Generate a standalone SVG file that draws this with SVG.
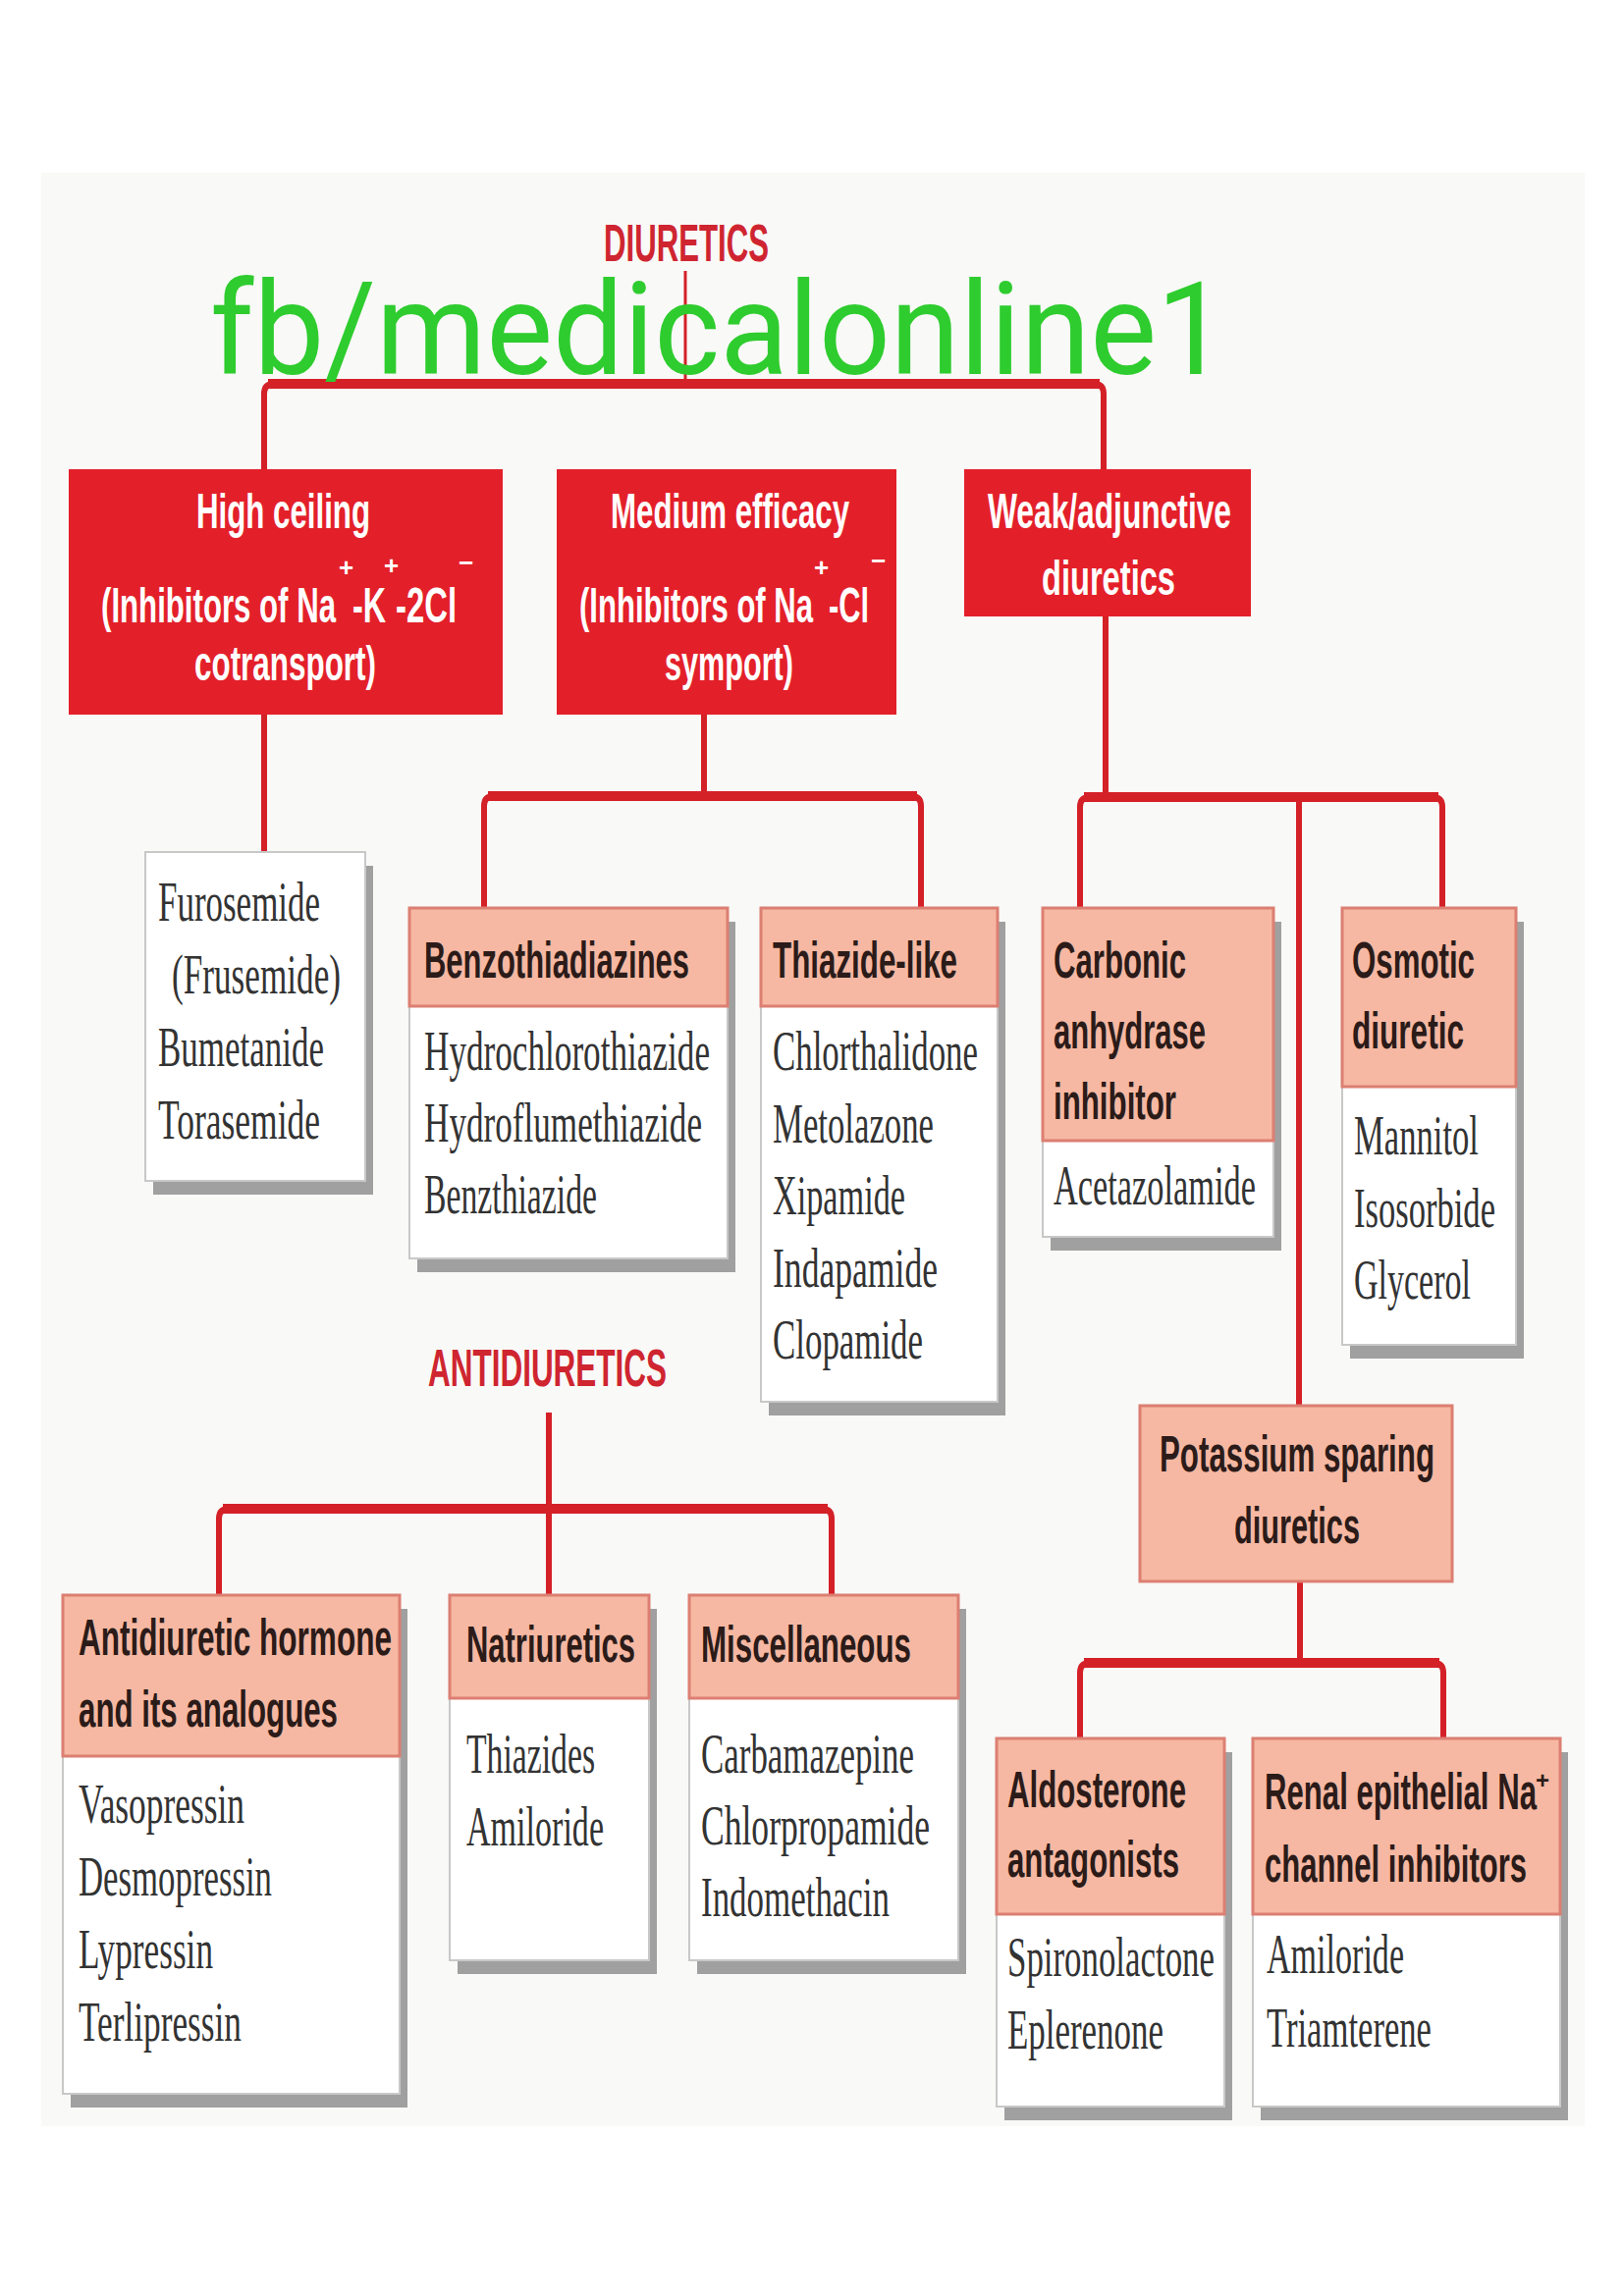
<svg xmlns="http://www.w3.org/2000/svg" width="1653" height="2339" viewBox="0 0 1653 2339">
<defs>
<style>
.bg{fill:#f9f9f7}
.red{fill:#e3202a}
.rt{font-family:"Liberation Sans",Arial,sans-serif;font-weight:bold;fill:#ffffff;font-size:50px}
.sup{font-family:"Liberation Sans",Arial,sans-serif;font-weight:bold;fill:#ffffff;font-size:26px}
.hd{fill:#f6b8a2;stroke:#dc7f72;stroke-width:3}
.body{fill:#ffffff;stroke:#c8c8c8;stroke-width:2}
.sh{fill:#a0a0a0}
.ht{font-family:"Liberation Sans",Arial,sans-serif;font-weight:bold;fill:#2b1b19;font-size:52px}
.hsup{font-family:"Liberation Sans",Arial,sans-serif;font-weight:bold;fill:#2b1b19;font-size:24px}
.bt{font-family:"Liberation Serif","Times New Roman",serif;fill:#333333;font-size:58px}
.ti{font-family:"Liberation Sans",Arial,sans-serif;font-weight:bold;fill:#cf2530;font-size:54px}
.wm{font-family:Roboto,"Liberation Sans",Arial,sans-serif;fill:#2ecc2e;font-size:132px}
.cn{fill:none;stroke:#d42027}
.bar{stroke-width:10}
.v{stroke-width:6}
.thin{stroke-width:3}
</style>
</defs>
<rect class="bg" x="42" y="176" width="1572" height="1990"/>

<g id="connectors">
  <line class="cn thin" x1="698" y1="276" x2="698" y2="391"/>
  <path class="cn v" d="M269,478 V401 Q269,391 279,391 H1114 Q1124,391 1124,401 V478"/>
  <line class="cn bar" x1="273" y1="391" x2="1120" y2="391"/>
  <line class="cn v" x1="269" y1="728" x2="269" y2="868"/>
  <line class="cn v" x1="717" y1="728" x2="717" y2="811"/>
  <path class="cn v" d="M493,925 V821 Q493,811 503,811 H928 Q938,811 938,821 V925"/>
  <line class="cn bar" x1="497" y1="811" x2="934" y2="811"/>
  <line class="cn v" x1="1126" y1="628" x2="1126" y2="812"/>
  <path class="cn v" d="M1100,925 V822 Q1100,812 1110,812 H1459 Q1469,812 1469,822 V925"/>
  <line class="cn bar" x1="1104" y1="812" x2="1465" y2="812"/>
  <line class="cn v" x1="1323" y1="812" x2="1323" y2="1432"/>
  <line class="cn v" x1="1324" y1="1611" x2="1324" y2="1694"/>
  <path class="cn v" d="M1100,1771 V1704 Q1100,1694 1110,1694 H1460 Q1470,1694 1470,1704 V1771"/>
  <line class="cn bar" x1="1104" y1="1694" x2="1466" y2="1694"/>
  <line class="cn v" x1="559" y1="1439" x2="559" y2="1625"/>
  <path class="cn v" d="M223,1625 V1547 Q223,1537 233,1537 H837 Q847,1537 847,1547 V1625"/>
  <line class="cn bar" x1="227" y1="1537" x2="843" y2="1537"/>
</g>

<g id="diuretics-title">
  <text class="ti" x="615" y="266" textLength="168" lengthAdjust="spacingAndGlyphs">DIURETICS</text>
</g>

<g id="high-ceiling">
  <rect class="red" x="70" y="478" width="442" height="250"/>
  <text class="rt" x="200" y="538" textLength="177" lengthAdjust="spacingAndGlyphs">High ceiling</text>
  <text class="rt" x="103" y="634" textLength="239" lengthAdjust="spacingAndGlyphs">(Inhibitors of Na</text>
  <text class="sup" x="345" y="587">+</text>
  <text class="rt" x="359" y="634" textLength="34" lengthAdjust="spacingAndGlyphs">-K</text>
  <text class="sup" x="391" y="585">+</text>
  <text class="rt" x="403" y="634" textLength="62" lengthAdjust="spacingAndGlyphs">-2Cl</text>
  <text class="sup" x="467" y="582">−</text>
  <text class="rt" x="198" y="693" textLength="185" lengthAdjust="spacingAndGlyphs">cotransport)</text>
</g>

<g id="medium-efficacy">
  <rect class="red" x="567" y="478" width="346" height="250"/>
  <text class="rt" x="622" y="538" textLength="243" lengthAdjust="spacingAndGlyphs">Medium efficacy</text>
  <text class="rt" x="590" y="634" textLength="238" lengthAdjust="spacingAndGlyphs">(Inhibitors of Na</text>
  <text class="sup" x="829" y="587">+</text>
  <text class="rt" x="844" y="634" textLength="41" lengthAdjust="spacingAndGlyphs">-Cl</text>
  <text class="sup" x="887" y="580">−</text>
  <text class="rt" x="677" y="693" textLength="131" lengthAdjust="spacingAndGlyphs">symport)</text>
</g>

<g id="weak-adjunctive">
  <rect class="red" x="982" y="478" width="292" height="150"/>
  <text class="rt" x="1006" y="538" textLength="248" lengthAdjust="spacingAndGlyphs">Weak/adjunctive</text>
  <text class="rt" x="1061" y="606" textLength="136" lengthAdjust="spacingAndGlyphs">diuretics</text>
</g>

<g id="furosemide">
  <rect class="sh" x="156" y="882" width="224" height="335"/>
  <rect class="body" x="148" y="868" width="224" height="335"/>
  <text class="bt" x="161" y="938" textLength="165" lengthAdjust="spacingAndGlyphs">Furosemide</text>
  <text class="bt" x="175" y="1012" textLength="172" lengthAdjust="spacingAndGlyphs">(Frusemide)</text>
  <text class="bt" x="161" y="1086" textLength="169" lengthAdjust="spacingAndGlyphs">Bumetanide</text>
  <text class="bt" x="161" y="1160" textLength="165" lengthAdjust="spacingAndGlyphs">Torasemide</text>
</g>

<g id="benzothiadiazines">
  <rect class="sh" x="425" y="939" width="324" height="357"/>
  <rect class="body" x="417" y="925" width="324" height="357"/>
  <rect class="hd" x="417" y="925" width="324" height="100"/>
  <text class="ht" x="432" y="996" textLength="270" lengthAdjust="spacingAndGlyphs">Benzothiadiazines</text>
  <text class="bt" x="432" y="1090" textLength="291" lengthAdjust="spacingAndGlyphs">Hydrochlorothiazide</text>
  <text class="bt" x="432" y="1163" textLength="283" lengthAdjust="spacingAndGlyphs">Hydroflumethiazide</text>
  <text class="bt" x="432" y="1236" textLength="176" lengthAdjust="spacingAndGlyphs">Benzthiazide</text>
</g>

<g id="thiazide-like">
  <rect class="sh" x="783" y="939" width="241" height="503"/>
  <rect class="body" x="775" y="925" width="241" height="503"/>
  <rect class="hd" x="775" y="925" width="241" height="100"/>
  <text class="ht" x="787" y="996" textLength="188" lengthAdjust="spacingAndGlyphs">Thiazide-like</text>
  <text class="bt" x="787" y="1090" textLength="209" lengthAdjust="spacingAndGlyphs">Chlorthalidone</text>
  <text class="bt" x="787" y="1164" textLength="164" lengthAdjust="spacingAndGlyphs">Metolazone</text>
  <text class="bt" x="787" y="1237" textLength="135" lengthAdjust="spacingAndGlyphs">Xipamide</text>
  <text class="bt" x="787" y="1311" textLength="168" lengthAdjust="spacingAndGlyphs">Indapamide</text>
  <text class="bt" x="787" y="1384" textLength="153" lengthAdjust="spacingAndGlyphs">Clopamide</text>
</g>

<g id="carbonic-anhydrase">
  <rect class="sh" x="1070" y="939" width="235" height="335"/>
  <rect class="body" x="1062" y="925" width="235" height="335"/>
  <rect class="hd" x="1062" y="925" width="235" height="237"/>
  <text class="ht" x="1073" y="996" textLength="135" lengthAdjust="spacingAndGlyphs">Carbonic</text>
  <text class="ht" x="1073" y="1068" textLength="155" lengthAdjust="spacingAndGlyphs">anhydrase</text>
  <text class="ht" x="1073" y="1140" textLength="125" lengthAdjust="spacingAndGlyphs">inhibitor</text>
  <text class="bt" x="1073" y="1227" textLength="206" lengthAdjust="spacingAndGlyphs">Acetazolamide</text>
</g>

<g id="osmotic">
  <rect class="sh" x="1375" y="939" width="177" height="445"/>
  <rect class="body" x="1367" y="925" width="177" height="445"/>
  <rect class="hd" x="1367" y="925" width="177" height="182"/>
  <text class="ht" x="1377" y="996" textLength="125" lengthAdjust="spacingAndGlyphs">Osmotic</text>
  <text class="ht" x="1377" y="1068" textLength="114" lengthAdjust="spacingAndGlyphs">diuretic</text>
  <text class="bt" x="1379" y="1176" textLength="127" lengthAdjust="spacingAndGlyphs">Mannitol</text>
  <text class="bt" x="1379" y="1250" textLength="144" lengthAdjust="spacingAndGlyphs">Isosorbide</text>
  <text class="bt" x="1379" y="1323" textLength="119" lengthAdjust="spacingAndGlyphs">Glycerol</text>
</g>

<g id="potassium-sparing">
  <rect class="hd" x="1161" y="1432" width="318" height="179"/>
  <text class="ht" x="1181" y="1499" textLength="280" lengthAdjust="spacingAndGlyphs">Potassium sparing</text>
  <text class="ht" x="1257" y="1572" textLength="128" lengthAdjust="spacingAndGlyphs">diuretics</text>
</g>

<g id="aldosterone-antagonists">
  <rect class="sh" x="1023" y="1785" width="232" height="375"/>
  <rect class="body" x="1015" y="1771" width="232" height="375"/>
  <rect class="hd" x="1015" y="1771" width="232" height="179"/>
  <text class="ht" x="1026" y="1841" textLength="182" lengthAdjust="spacingAndGlyphs">Aldosterone</text>
  <text class="ht" x="1026" y="1912" textLength="175" lengthAdjust="spacingAndGlyphs">antagonists</text>
  <text class="bt" x="1026" y="2013" textLength="211" lengthAdjust="spacingAndGlyphs">Spironolactone</text>
  <text class="bt" x="1026" y="2087" textLength="159" lengthAdjust="spacingAndGlyphs">Eplerenone</text>
</g>

<g id="renal-epithelial">
  <rect class="sh" x="1284" y="1785" width="313" height="375"/>
  <rect class="body" x="1276" y="1771" width="313" height="375"/>
  <rect class="hd" x="1276" y="1771" width="313" height="179"/>
  <text class="ht" x="1288" y="1843" textLength="277" lengthAdjust="spacingAndGlyphs">Renal epithelial Na</text>
  <text class="hsup" x="1564" y="1822">+</text>
  <text class="ht" x="1288" y="1917" textLength="267" lengthAdjust="spacingAndGlyphs">channel inhibitors</text>
  <text class="bt" x="1290" y="2010" textLength="140" lengthAdjust="spacingAndGlyphs">Amiloride</text>
  <text class="bt" x="1290" y="2085" textLength="168" lengthAdjust="spacingAndGlyphs">Triamterene</text>
</g>

<g id="antidiuretics-title">
  <text class="ti" x="436" y="1412" textLength="243" lengthAdjust="spacingAndGlyphs">ANTIDIURETICS</text>
</g>

<g id="adh">
  <rect class="sh" x="72" y="1639" width="343" height="508"/>
  <rect class="body" x="64" y="1625" width="343" height="508"/>
  <rect class="hd" x="64" y="1625" width="343" height="164"/>
  <text class="ht" x="80" y="1686" textLength="319" lengthAdjust="spacingAndGlyphs">Antidiuretic hormone</text>
  <text class="ht" x="80" y="1759" textLength="264" lengthAdjust="spacingAndGlyphs">and its analogues</text>
  <text class="bt" x="80" y="1857" textLength="169" lengthAdjust="spacingAndGlyphs">Vasopressin</text>
  <text class="bt" x="80" y="1931" textLength="197" lengthAdjust="spacingAndGlyphs">Desmopressin</text>
  <text class="bt" x="80" y="2005" textLength="137" lengthAdjust="spacingAndGlyphs">Lypressin</text>
  <text class="bt" x="80" y="2079" textLength="166" lengthAdjust="spacingAndGlyphs">Terlipressin</text>
</g>

<g id="natriuretics">
  <rect class="sh" x="466" y="1639" width="203" height="372"/>
  <rect class="body" x="458" y="1625" width="203" height="372"/>
  <rect class="hd" x="458" y="1625" width="203" height="105"/>
  <text class="ht" x="475" y="1693" textLength="172" lengthAdjust="spacingAndGlyphs">Natriuretics</text>
  <text class="bt" x="475" y="1806" textLength="131" lengthAdjust="spacingAndGlyphs">Thiazides</text>
  <text class="bt" x="475" y="1880" textLength="140" lengthAdjust="spacingAndGlyphs">Amiloride</text>
</g>

<g id="miscellaneous">
  <rect class="sh" x="710" y="1639" width="274" height="372"/>
  <rect class="body" x="702" y="1625" width="274" height="372"/>
  <rect class="hd" x="702" y="1625" width="274" height="105"/>
  <text class="ht" x="714" y="1693" textLength="214" lengthAdjust="spacingAndGlyphs">Miscellaneous</text>
  <text class="bt" x="714" y="1806" textLength="217" lengthAdjust="spacingAndGlyphs">Carbamazepine</text>
  <text class="bt" x="714" y="1879" textLength="233" lengthAdjust="spacingAndGlyphs">Chlorpropamide</text>
  <text class="bt" x="714" y="1952" textLength="192" lengthAdjust="spacingAndGlyphs">Indomethacin</text>
</g>

<g id="watermark">
  <text class="wm" x="214" y="381" textLength="1036" lengthAdjust="spacingAndGlyphs">fb/medicalonline1</text>
</g>
</svg>
